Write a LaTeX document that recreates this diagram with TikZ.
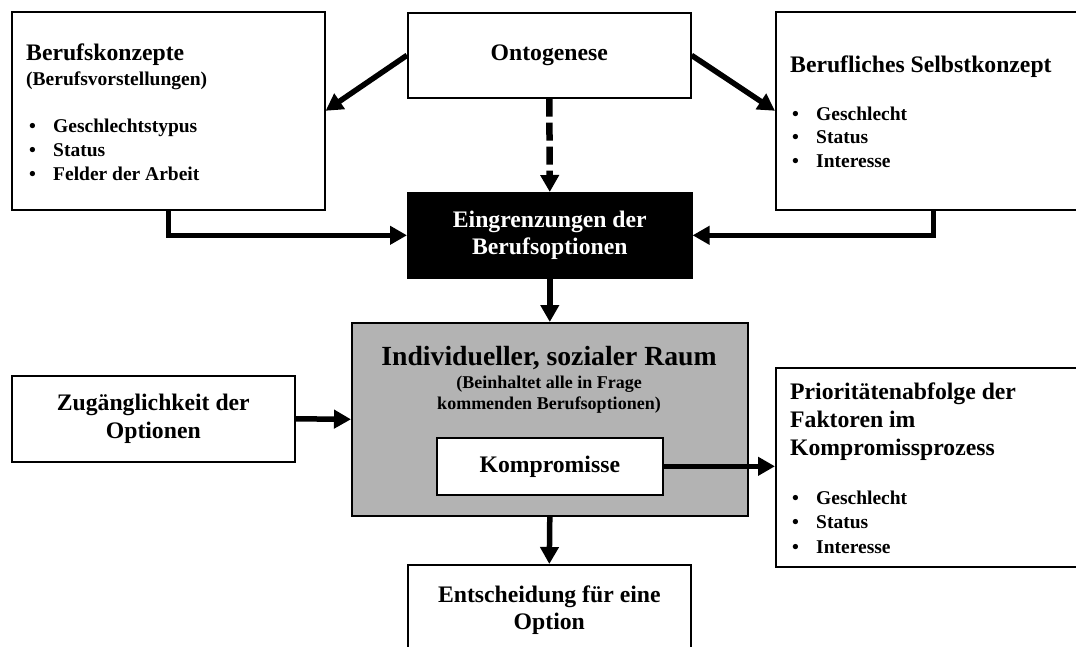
\documentclass[tikz,border=0pt]{standalone}
\usepackage{fontspec}
\setmainfont{Liberation Serif}
\usetikzlibrary{arrows.meta}
\definecolor{raumgrau}{RGB}{179,179,179}
\newcommand{\bpunkt}[1]{\makebox[24pt][l]{\textbullet}#1}
\newcommand{\zeilen}[2][l]{\begin{tabular}[t]{@{}#1@{}}#2\end{tabular}}
\tikzset{
	kasten/.style={draw,line width=1.6pt,inner sep=0pt,anchor=north west,align=center,font=\fontsize{23.7}{27.5}\selectfont\bfseries},
	titel/.style={inner sep=0pt,anchor=base west,font=\fontsize{23.7}{28}\selectfont\bfseries},
	liste/.style={inner sep=0pt,anchor=base west,font=\fontsize{19.5}{24}\selectfont\bfseries},
	pfeil/.style={line width=5.5pt,-{Triangle[length=17pt,width=18pt]}},
	strichpfeil/.style={pfeil,line width=6.5pt,dash pattern=on 18pt off 6pt}
}
\begin{document}
\begin{tikzpicture}[x=1pt,y=-1pt]
		\useasboundingbox (0,0) rectangle (1076,646);
		\clip (0,0) rectangle (1076,646);
		\node[kasten,minimum width=313pt,minimum height=198pt] (B1) at (11,11) {};
		\node[titel] (B2) at (26,60) {Berufskonzepte};
		\node[liste] (B3) at (26,85) {(Berufsvorstellungen)};
		\node[liste] (B4) at (29,132) {\zeilen{\bpunkt{Geschlechtstypus}\\\bpunkt{Status}\\\bpunkt{Felder der Arbeit}}};
		\node[kasten,minimum width=283pt,minimum height=85pt] (O1) at (407,12) {Ontogenese};
		\node[kasten,minimum width=315pt,minimum height=198pt] (S1) at (775,11) {};
		\node[titel] (S2) at (790,72) {Berufliches Selbstkonzept};
		\node[liste,font=\fontsize{19.5}{23.5}\selectfont\bfseries] (S3) at (792,120) {\zeilen{\bpunkt{Geschlecht}\\\bpunkt{Status}\\\bpunkt{Interesse}}};
		\node[kasten,fill=black,text=white,minimum width=284pt,minimum height=85pt] (E1) at (407,192) {Eingrenzungen der\\Berufsoptionen};
		\node[kasten,fill=raumgrau,minimum width=396pt,minimum height=193pt] (R1) at (351,322) {};
		\node[inner sep=0pt,anchor=base,font=\fontsize{27.7}{32}\selectfont\bfseries] (R2) at (549,365) {Individueller, sozialer Raum};
		\node[inner sep=0pt,anchor=base,font=\fontsize{18}{21.5}\selectfont\bfseries] (R3) at (549,388) {\zeilen[c]{(Beinhaltet alle in Frage\\kommenden Berufsoptionen)}};
		\node[kasten,fill=white,minimum width=226pt,minimum height=57pt] (K1) at (436,437) {Kompromisse};
		\node[kasten,minimum width=283pt,minimum height=86pt] (Z1) at (11,375) {Zugänglichkeit der\\Optionen};
		\node[kasten,minimum width=315pt,minimum height=199pt] (P1) at (775,367) {};
		\node[titel] (P2) at (790,399) {\zeilen{Prioritätenabfolge der\\Faktoren im\\Kompromissprozess}};
		\node[liste,font=\fontsize{19.5}{24.5}\selectfont\bfseries] (P3) at (792,504) {\zeilen{\bpunkt{Geschlecht}\\\bpunkt{Status}\\\bpunkt{Interesse}}};
		\node[kasten,minimum width=283pt,minimum height=91pt] (E2) at (407,564) {Entscheidung für eine\\Option};
		\draw[pfeil] (O1.west) -- (B1.east);
		\draw[pfeil] (O1.east) -- (S1.west);
		\draw[strichpfeil] (O1.south) -- (E1.north);
		\draw[pfeil] (B1.south) |- (E1.west);
		\draw[pfeil] (S1.south) |- (E1.east);
		\draw[pfeil] (E1.south) -- (R1.north);
		\draw[pfeil] (Z1.east) -- (R1.west);
		\draw[pfeil] (K1.east) -- (P1.west |- K1.east);
		\draw[pfeil] (R1.south) -- (E2.north);
\end{tikzpicture}
\end{document}
